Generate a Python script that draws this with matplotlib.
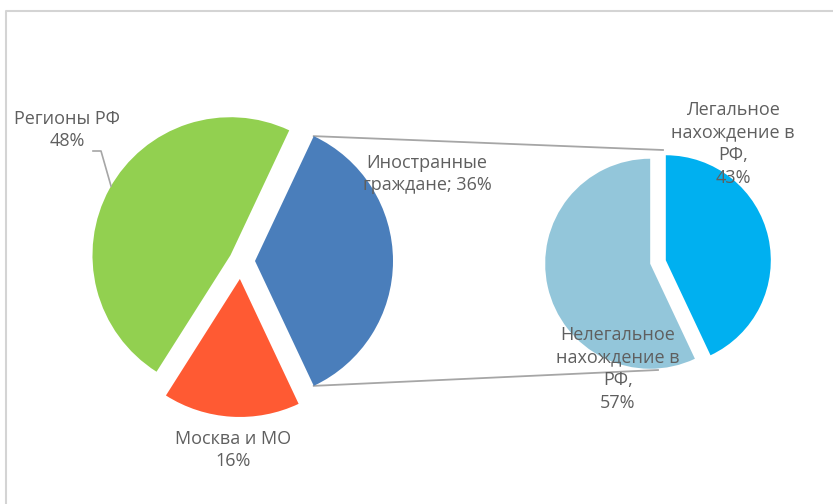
import matplotlib.pyplot as plt
import numpy as np

# main pie: foreign citizens first so it sits on the right, facing the second pie
main_labels = ['Иностранные\nграждане; 36%', 'Регионы РФ\n48%', 'Москва и МО\n16%']
main_values = [36, 48, 16]
main_colors = ['#4a7ebb', '#92d050', '#ff5a33']

# breakdown of the foreign citizens slice
sub_labels = ['Легальное\nнахождение в\nРФ,\n43%', 'Нелегальное\nнахождение в\nРФ,\n57%']
sub_values = [43, 57]
sub_colors = ['#00b0f0', '#93c6da']

W, H = 833, 504
text_color = '#5f5f5f'
plt.rcParams['font.family'] = ['Open Sans', 'DejaVu Sans']

fig = plt.figure(figsize=(W / 100, H / 100), dpi=100)
ax = fig.add_axes([0, 0, 1, 1])

# chart frame
ax.plot([6.5, 6.5, W + 5], [-5, H - 10.5, H - 10.5], color='#d4d4d4', lw=1.5,
        solid_capstyle='butt', zorder=0)

# explode is in data units (pixels here)
c1, r1, ex1 = (241, 243), 138, [14, 12, 18]
c2, r2, ex2 = (658, 242), 105, [8, 8]

half = 360 * main_values[0] / 100 / 2
ax.pie(main_values, colors=main_colors, center=c1, radius=r1, startangle=-half,
       explode=ex1, wedgeprops=dict(linewidth=0), frame=True)
ax.pie(sub_values, colors=sub_colors, center=c2, radius=r2, startangle=90,
       counterclock=False, explode=ex2, wedgeprops=dict(linewidth=0), frame=True)
ax.set_xlim(0, W)
ax.set_ylim(0, H)
ax.set_aspect('equal')
ax.axis('off')

# connector lines from the foreign slice to the second pie
a = np.radians(half)
top = (c1[0] + ex1[0] + r1 * np.cos(a), c1[1] + r1 * np.sin(a))
bot = (c1[0] + ex1[0] + r1 * np.cos(a), c1[1] - r1 * np.sin(a))
ax.plot([top[0], c2[0] + 5], [top[1], c2[1] + r2 + 7], color='#a6a6a6', lw=1.3, zorder=0.5)
ax.plot([bot[0], c2[0]], [bot[1], c2[1] - r2 - 3], color='#a6a6a6', lw=1.3, zorder=0.5)
for p in ax.patches:
    p.set_zorder(1)

fs = 13
kw = dict(color=text_color, fontsize=fs, ha='center', va='center', linespacing=1.35, zorder=3)
ax.text(427, H - 174, main_labels[0], **kw)
ax.text(67, H - 130, main_labels[1], **kw)
ax.text(233, H - 450, main_labels[2], **kw)
ax.text(733, H - 144, sub_labels[0], **kw)
ax.text(618, H - 369, sub_labels[1], **kw)

# leader line for the regions label
ax.plot([93, 101, 111], [H - 151, H - 151, H - 186], color='#a6a6a6', lw=1.2, zorder=2)

fig.savefig('out.png', dpi=100)
